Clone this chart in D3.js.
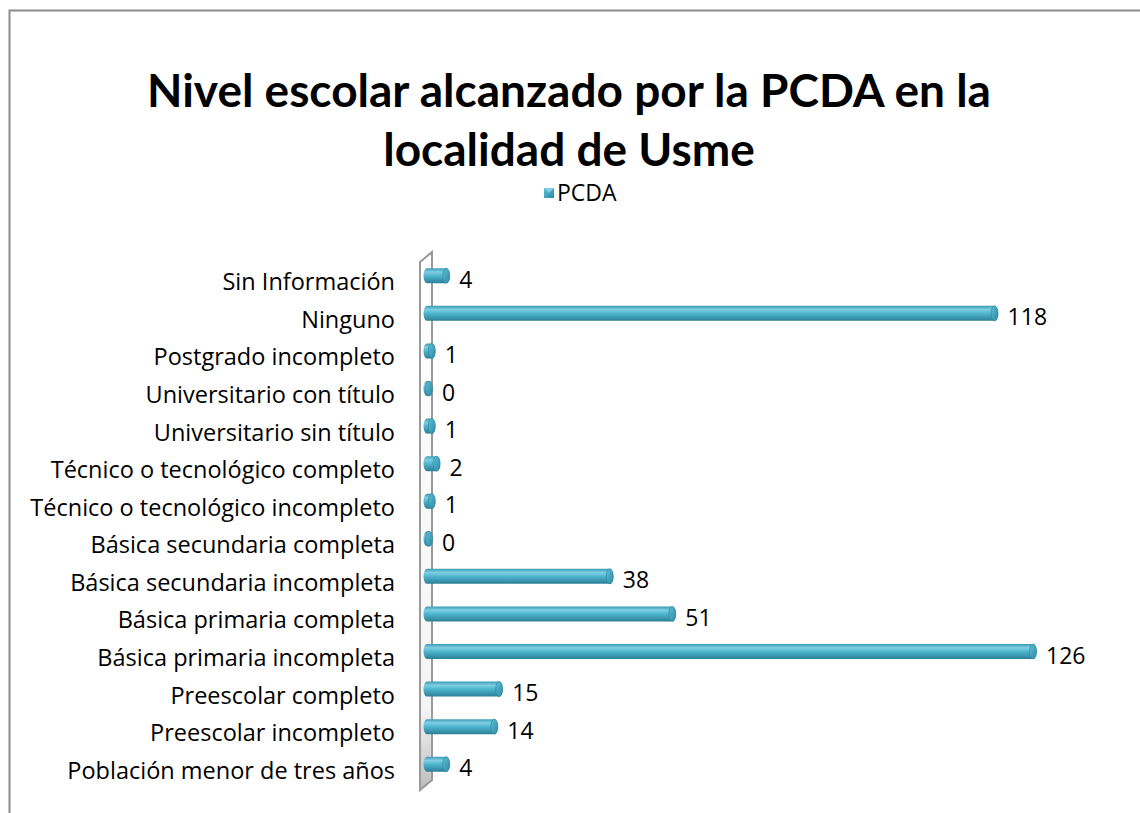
<!DOCTYPE html>
<html><head><meta charset="utf-8">
<script src="https://cdn.jsdelivr.net/npm/d3@7"></script>
<style>body{margin:0;background:#fff;}svg{display:block;}</style>
</head><body>
<script>
const categories = ["Sin Información","Ninguno","Postgrado incompleto","Universitario con título ","Universitario sin título ","Técnico o tecnológico completo","Técnico o tecnológico incompleto","Básica secundaria completa","Básica secundaria incompleta","Básica primaria completa","Básica primaria incompleta","Preescolar completo","Preescolar incompleto","Población menor de tres años"];
const values = [4,118,1,0,1,2,1,0,38,51,126,15,14,4];
const seriesName = "PCDA";
const titleLines = ["Nivel escolar alcanzado por la PCDA en la","localidad de Usme"];

const W=1140,H=813;
const svg=d3.select("body").append("svg").attr("width",W).attr("height",H);
const defs=svg.append("defs");
const g1=defs.append("linearGradient").attr("id","cyl").attr("x1",0).attr("y1",0).attr("x2",0).attr("y2",1);
g1.append("stop").attr("offset","0%").attr("stop-color","#3a9bb4");
g1.append("stop").attr("offset","25%").attr("stop-color","#7fcfe3");
g1.append("stop").attr("offset","50%").attr("stop-color","#4fb6cf");
g1.append("stop").attr("offset","100%").attr("stop-color","#2b7f96");
const g2=defs.append("linearGradient").attr("id","cap").attr("x1",0).attr("y1",0).attr("x2",1).attr("y2",1);
g2.append("stop").attr("offset","0%").attr("stop-color","#5fc0d8");
g2.append("stop").attr("offset","100%").attr("stop-color","#2d8aa3");
const g3=defs.append("linearGradient").attr("id","wall").attr("x1",0).attr("y1",0).attr("x2",0).attr("y2",1);
g3.append("stop").attr("offset","0%").attr("stop-color","#ffffff");
g3.append("stop").attr("offset","85%").attr("stop-color","#f4f4f4");
g3.append("stop").attr("offset","100%").attr("stop-color","#bdbdbd");

// border
svg.append("path").attr("d","M9.5,813 L9.5,10.5 L1140,10.5").attr("fill","none").attr("stroke","#8c8c8c").attr("stroke-width",2);

// title
svg.append("g").selectAll("text").data(titleLines).join("text")
  .attr("x",569).attr("y",(d,i)=>107+i*59).attr("text-anchor","middle")
  .style("font-family","Lato, 'Open Sans', sans-serif").style("font-weight","bold").style("font-size","46px").attr("fill","#000").text(d=>d);

// legend
const lg=svg.append("g");
lg.append("rect").attr("x",544).attr("y",188).attr("width",10).attr("height",10).attr("fill","url(#cap)");
lg.append("path").attr("d","M544,188 L549,193 L554,188 Z").attr("fill","#7fcfe3");
lg.append("text").attr("x",557).attr("y",201).style("font-family","'Open Sans', sans-serif").style("font-size","23px").text(seriesName);

// scales
const x=d3.scaleLinear().domain([0,140]).range([427,1100.4]);
const y=d3.scaleBand().domain(categories).range([257,783]).paddingInner(0.6).paddingOuter(0.3);

// wall
svg.append("path").attr("d","M420,262 L432,252 L432,780 L420,790 Z").attr("fill","url(#wall)").attr("stroke","#9a9a9a").attr("stroke-width",2);

// category axis labels
const yAxis=d3.axisLeft(y).tickSize(0).tickPadding(0);
const ax=svg.append("g").attr("transform","translate(395,7)").call(yAxis);
ax.select(".domain").remove();
ax.selectAll("text").style("font-family","'Open Sans', sans-serif").style("font-size","23.5px").attr("fill","#000");

// bars
const bh=y.bandwidth();
const bars=svg.append("g").selectAll("g").data(categories).join("g");
bars.each(function(c,i){
  const gg=d3.select(this);
  const v=values[i];
  const x0=x(0), x1=Math.max(x(v),x0+2), yy=y(c), rx=3.5, ry=bh/2;
  gg.append("path").attr("d",`M${x0},${yy} L${x1},${yy} A${rx},${ry} 0 0 1 ${x1},${yy+bh} L${x0},${yy+bh} A${rx},${ry} 0 0 1 ${x0},${yy} Z`).attr("fill","url(#cyl)");
  gg.append("ellipse").attr("cx",x1).attr("cy",yy+ry).attr("rx",rx).attr("ry",ry).attr("fill","url(#cap)").attr("stroke","#2a7f95").attr("stroke-width",0.6);
  gg.append("text").attr("x",x1+13).attr("y",yy+ry+12).style("font-family","'Open Sans', sans-serif").style("font-size","23px").attr("fill","#000").text(v);
});
</script>
</body></html>
